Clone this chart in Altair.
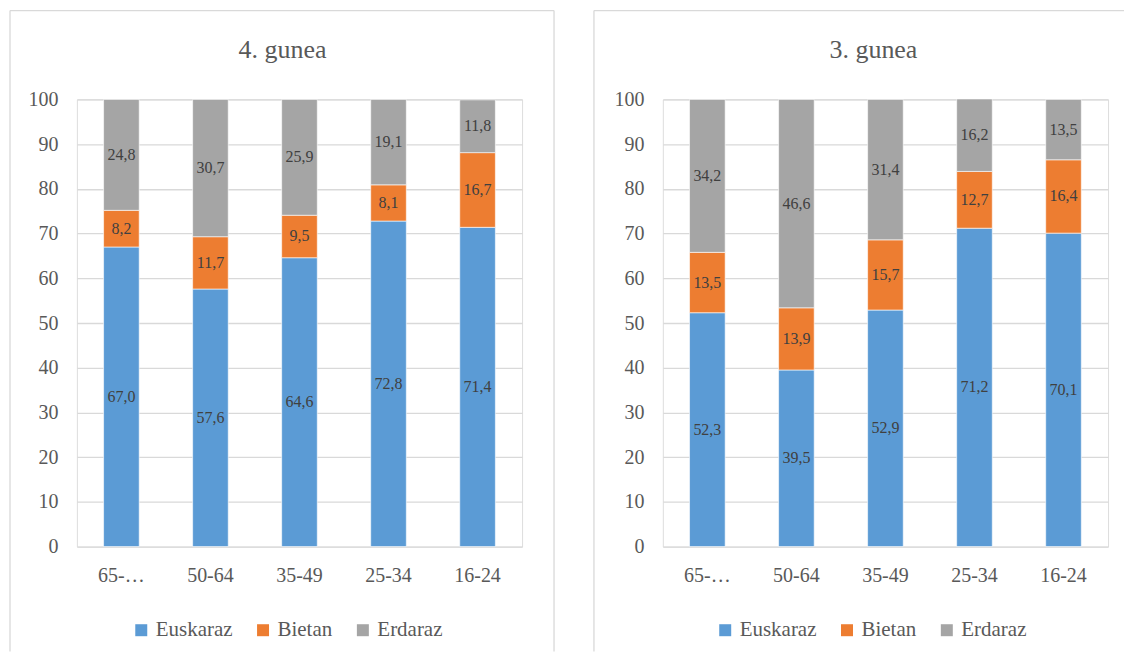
import altair as alt
import pandas as pd

FONT = "Liberation Serif"

ages = ["65-…", "50-64", "35-49", "25-34", "16-24"]
series = ["Euskaraz", "Bietan", "Erdaraz"]
colors = ["#5B9BD5", "#ED7D31", "#A5A5A5"]

g4_euskaraz = [67.0, 57.6, 64.6, 72.8, 71.4]
g4_bietan = [8.2, 11.7, 9.5, 8.1, 16.7]
g4_erdaraz = [24.8, 30.7, 25.9, 19.1, 11.8]

g3_euskaraz = [52.3, 39.5, 52.9, 71.2, 70.1]
g3_bietan = [13.5, 13.9, 15.7, 12.7, 16.4]
g3_erdaraz = [34.2, 46.6, 31.4, 16.2, 13.5]

titles = ["4. gunea", "3. gunea"]


def make_df(eus, bie, erd):
    rows = []
    for i, a in enumerate(ages):
        for k, (s, vals) in enumerate(zip(series, [eus, bie, erd])):
            rows.append({"age": a, "series": s, "value": vals[i], "order": k})
    return pd.DataFrame(rows)


def panel(df, title, left, right, top, bottom, draw_right, title_dx, leg_x):
    base = alt.Chart(df).transform_stack(
        stack="value", groupby=["age"], as_=["y0", "y1"],
        sort=[alt.SortField("order", order="ascending")],
    ).transform_calculate(
        mid="(datum.y0 + datum.y1) / 2",
        label="replace(format(datum.value, '.1f'), '.', ',')",
    )
    xenc = alt.X(
        "age:N", sort=ages,
        scale=alt.Scale(paddingInner=0.6, paddingOuter=0.3),
        axis=alt.Axis(title=None, labelAngle=0, domain=False, ticks=False,
                      labelPadding=19, labelFontSize=20, labelColor="#595959",
                      labelFont=FONT, grid=False),
    )
    yenc = alt.Y(
        "y0:Q", scale=alt.Scale(domain=[0, 100], nice=False),
        axis=alt.Axis(title=None, values=list(range(0, 101, 10)), domain=False,
                      ticks=False, labelPadding=19, labelFontSize=20,
                      labelColor="#595959", labelFont=FONT, grid=True,
                      gridColor="#D9D9D9", gridWidth=1.3),
    )
    bars = base.mark_bar(stroke="white", strokeWidth=0.6).encode(
        x=xenc, y=yenc, y2="y1:Q",
        color=alt.Color(
            "series:N", sort=series,
            scale=alt.Scale(domain=series, range=colors),
            legend=alt.Legend(title=None, orient="none", legendX=leg_x, legendY=521,
                              direction="horizontal", symbolType="square",
                              symbolSize=144, symbolStrokeWidth=0,
                              labelFontSize=21, labelFont=FONT,
                              labelColor="#595959", columnPadding=20,
                              labelOffset=4),
        ),
    )
    texts = base.mark_text(font=FONT, fontSize=16, color="#404040").encode(
        x=alt.X("age:N", sort=ages), y="mid:Q", text="label:N"
    )
    one = pd.DataFrame({"k": [0]})
    rc = dict(color="#D9D9D9", strokeWidth=1.3)
    layers = [bars, texts]
    layers.append(alt.Chart(one).mark_rule(**rc).encode(
        x=alt.value(left), x2=alt.value(right), y=alt.value(top)))
    layers.append(alt.Chart(one).mark_rule(**rc).encode(
        x=alt.value(left), y=alt.value(top), y2=alt.value(bottom)))
    if draw_right:
        layers.append(alt.Chart(one).mark_rule(**rc).encode(
            x=alt.value(right), y=alt.value(top), y2=alt.value(bottom)))
    return alt.layer(*layers).properties(
        width=446, height=448,
        title=alt.TitleParams(title, fontSize=26, font=FONT, color="#595959",
                              fontWeight="normal", anchor="middle",
                              frame="group", dx=title_dx, offset=-53),
    )


p1 = panel(make_df(g4_euskaraz, g4_bietan, g4_erdaraz), titles[0],
           -67, 478, -89, 553, True, -17, 54)
p2 = panel(make_df(g3_euskaraz, g3_bietan, g3_erdaraz), titles[1],
           -69, 462, -89, 553, False, -12, 52)

chart = alt.hconcat(p1, p2, spacing=36).resolve_legend(
    color="independent"
).properties(
    padding={"left": 0, "top": 0, "right": 0, "bottom": 0}
).configure_view(stroke=None).configure(font=FONT)

chart.save("out.html", embed_options={"renderer": "svg", "actions": False})
